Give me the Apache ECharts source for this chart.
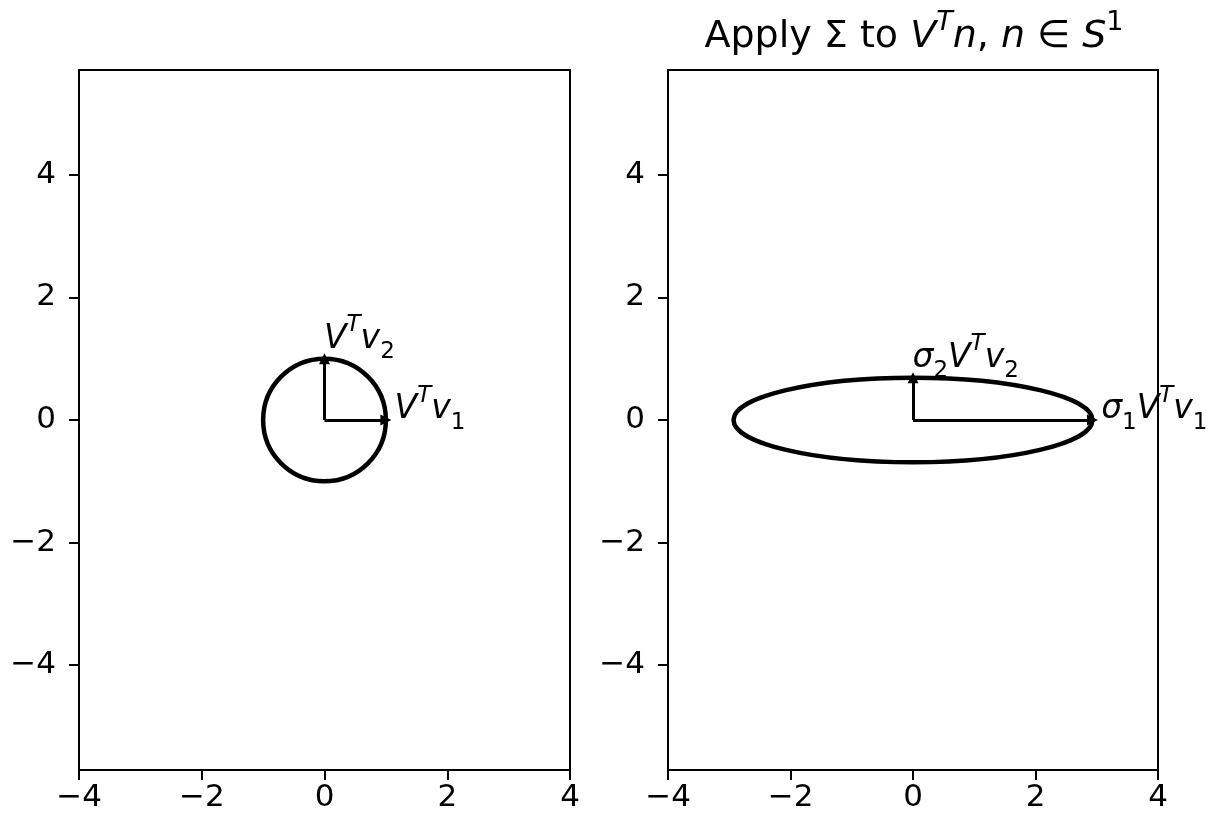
<!DOCTYPE html>
<html><head><meta charset="utf-8">
<script src="https://cdn.jsdelivr.net/npm/echarts@6/dist/echarts.min.js"></script>
<style>html,body{margin:0;padding:0;background:#fff}#c{width:1218px;height:821px}</style>
</head><body><div id="c"></div>
<script>
// ---- data ----
const xLim = [-4, 4];
const yLim = [-5.71, 5.71];
const tickValues = [-4, -2, 0, 2, 4];
const unitRadii = [1, 1];
const sigmaValues = [2.93, 0.69];
const leftTips = [[1, 0], [0, 1]];
const rightTips = [[2.93, 0], [0, 0.69]];
const leftLabels = ['{i|V}{sup|T}{i|v}{sub|1}', '{i|V}{sup|T}{i|v}{sub|2}'];
const rightLabels = ['{i|σ}{sub|1}{i|V}{sup|T}{i|v}{sub|1}', '{i|σ}{sub|2}{i|V}{sup|T}{i|v}{sub|2}'];
const rightTitle = '{r|Apply Σ to }{ti|V}{tsup|T}{ti|n}{r|, }{ti|n}{r| ∈ }{ti|S}{tsupr|1}';
const labelGap = 0.15;

const FONT = 'DejaVu Sans';
const rich = {
  i:   {fontFamily: FONT, fontSize: 33, fontStyle: 'italic', lineHeight: 50, color: '#000', opacity: 1},
  sup: {fontFamily: FONT, fontSize: 23, fontStyle: 'italic', lineHeight: 38, verticalAlign: 'top', color: '#000', opacity: 1},
  sub: {fontFamily: FONT, fontSize: 23, lineHeight: 30, verticalAlign: 'bottom', color: '#000', opacity: 1}
};
const titleRich = {
  r:    {fontFamily: FONT, fontSize: 38, lineHeight: 56, color: '#000'},
  ti:   {fontFamily: FONT, fontSize: 38, fontStyle: 'italic', lineHeight: 56, color: '#000'},
  tsup: {fontFamily: FONT, fontSize: 27, fontStyle: 'italic', lineHeight: 44, verticalAlign: 'top', color: '#000'},
  tsupr:{fontFamily: FONT, fontSize: 27, lineHeight: 44, verticalAlign: 'top', color: '#000'}
};

const fmt = v => String(v).replace('-', '\u2212');
function makeX(gi) {
  return {
    gridIndex: gi, type: 'value', min: xLim[0], max: xLim[1], interval: 2,
    axisLine: {show: true, onZero: false, lineStyle: {color: '#000', width: 2}},
    axisTick: {show: true, length: 10, lineStyle: {color: '#000', width: 2}},
    axisLabel: {fontFamily: FONT, fontSize: 31, color: '#000', margin: 12, formatter: fmt},
    splitLine: {show: false}
  };
}
function makeY(gi) {
  return {
    gridIndex: gi, type: 'value', min: yLim[0], max: yLim[1],
    axisLine: {show: true, onZero: false, lineStyle: {color: '#000', width: 2}},
    axisTick: {show: true, length: 10, customValues: tickValues, lineStyle: {color: '#000', width: 2}},
    axisLabel: {fontFamily: FONT, fontSize: 31, color: '#000', margin: 23, customValues: tickValues, formatter: fmt},
    splitLine: {show: false}
  };
}
function ellipseSeries(gi, radii) {
  return {
    type: 'custom', xAxisIndex: gi, yAxisIndex: gi, clip: true, silent: true,
    data: [[0, 0, radii[0], radii[1]]],
    renderItem(params, api) {
      const c = api.coord([api.value(0), api.value(1)]);
      const s = api.size([api.value(2), api.value(3)]);
      return {type: 'ellipse', shape: {cx: c[0], cy: c[1], rx: s[0], ry: s[1]},
              style: {fill: 'none', stroke: '#000', lineWidth: 4.5}};
    }
  };
}
function arrowSeries(gi, tips) {
  return {
    type: 'lines', coordinateSystem: 'cartesian2d', xAxisIndex: gi, yAxisIndex: gi, silent: true,
    symbol: ['none', 'triangle'], symbolSize: [9, 11],
    lineStyle: {color: '#000', width: 3, opacity: 1},
    data: tips.map(t => ({coords: [[0, 0], t]}))
  };
}
function labelSeries(gi, tips, labels) {
  return {
    type: 'scatter', xAxisIndex: gi, yAxisIndex: gi, silent: true, symbolSize: 1,
    itemStyle: {color: 'rgba(0,0,0,0)', opacity: 1},
    data: tips.map((t, k) => {
      const len = Math.hypot(t[0], t[1]);
      return {value: [t[0] + labelGap * t[0] / len, t[1] + labelGap * t[1] / len],
              label: {show: true, formatter: labels[k]}};
    }),
    label: {show: true, position: [0, 15], align: 'left', verticalAlign: 'bottom', color: '#000',
            opacity: 1, textBorderWidth: 0, rich: rich}
  };
}

const chart = echarts.init(document.getElementById('c'), null, {renderer: 'canvas'});
chart.setOption({
  animation: false,
  backgroundColor: '#fff',
  grid: [
    {left: 79, top: 70, width: 491, height: 700, show: true, borderColor: '#000', borderWidth: 2, backgroundColor: 'transparent'},
    {left: 668, top: 70, width: 490, height: 700, show: true, borderColor: '#000', borderWidth: 2, backgroundColor: 'transparent'}
  ],
  xAxis: [makeX(0), makeX(1)],
  yAxis: [makeY(0), makeY(1)],
  graphic: [{
    type: 'text', x: 914, y: 65, silent: true,
    style: {text: rightTitle, align: 'center', verticalAlign: 'bottom', fill: '#000', rich: titleRich}
  }],
  series: [
    ellipseSeries(0, unitRadii),
    arrowSeries(0, leftTips),
    labelSeries(0, leftTips, leftLabels),
    ellipseSeries(1, sigmaValues),
    arrowSeries(1, rightTips),
    labelSeries(1, rightTips, rightLabels)
  ]
});
</script></body></html>
